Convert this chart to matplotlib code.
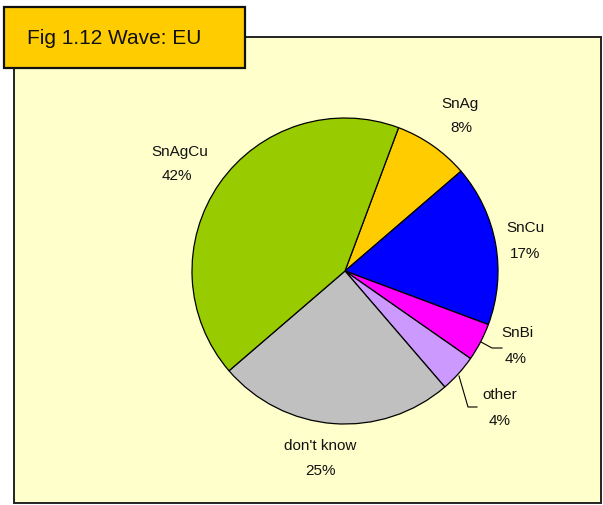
import matplotlib.pyplot as plt
from matplotlib.patches import Rectangle

# share of respondents by solder alloy
labels = ['SnAg', 'SnCu', 'SnBi', 'other', "don't know", 'SnAgCu']
shares = [8, 17, 4, 4, 25, 42]
colors = ['#FFCC00', '#0000FF', '#FF00FF', '#CC99FF', '#C0C0C0', '#99CC00']

W, H = 603, 506
plt.rcParams['font.family'] = ['Liberation Sans', 'DejaVu Sans']

fig = plt.figure(figsize=(W / 100, H / 100), dpi=100)
fig.patch.set_facecolor('white')
ax = fig.add_axes([0, 0, 1, 1])


def py(y):
    # pixel rows counted from the top
    return H - y


# chart area
ax.add_patch(Rectangle((14, py(504)), 587, 466, facecolor='#FFFFCC',
                       edgecolor='#222222', linewidth=1.4, zorder=0))

ax.pie(shares, colors=colors, startangle=69.5, counterclock=False,
       center=(345, py(272)), radius=153, frame=True,
       wedgeprops=dict(edgecolor='black', linewidth=0.9))

# label name / percent positions (pixels)
name_pos = [(460, 104), (525, 228), (517, 333), (500, 395), (320, 446), (180, 152)]
pct_pos = [(461, 128), (525, 254), (516, 359), (500, 421), (320, 471), (177, 176)]
for lab, v, (nx, ny), (qx, qy) in zip(labels, shares, name_pos, pct_pos):
    ax.text(nx, py(ny), lab, ha='center', va='center', fontsize=11, color='#111111')
    ax.text(qx, py(qy), f'{v}%', ha='center', va='center', fontsize=11, color='#111111')

# leader lines for the small slices
ax.plot([481, 492, 502], [py(343), py(349), py(349)], color='black', lw=0.8)
ax.plot([459, 468, 477], [py(377), py(408), py(408)], color='black', lw=0.8)

# title box
ax.add_patch(Rectangle((4, py(69)), 241, 61, facecolor='#FFCC00',
                       edgecolor='#111111', linewidth=1.6, zorder=5))
ax.text(27, py(38), 'Fig 1.12 Wave: EU', ha='left', va='center',
        fontsize=15, color='#111111', zorder=6)

ax.set_xlim(0, W)
ax.set_ylim(0, H)
ax.set_aspect('auto')
ax.set_axis_off()

fig.savefig('out.png', dpi=100, facecolor='white')
